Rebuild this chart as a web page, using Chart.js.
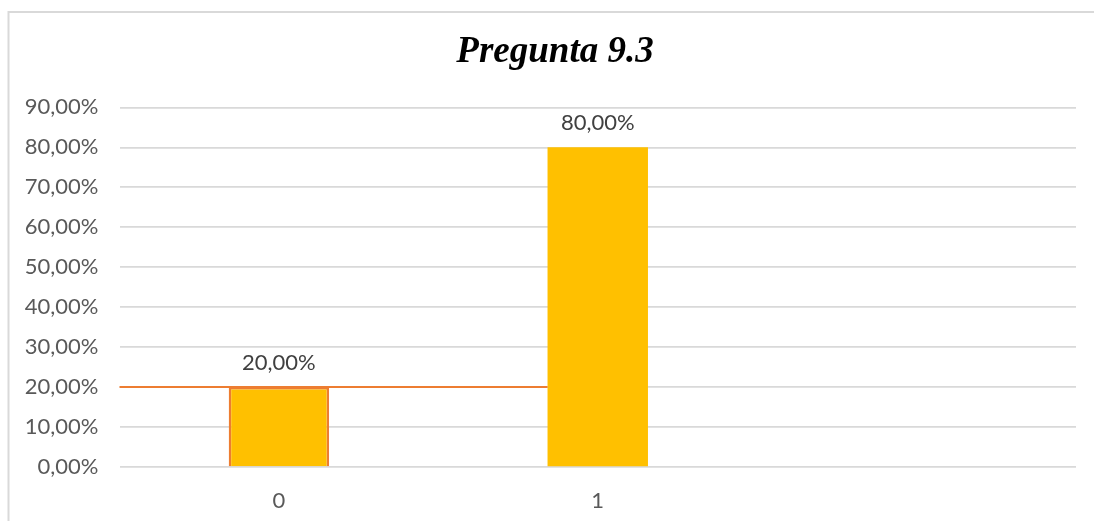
<!DOCTYPE html>
<html lang="es">
<head>
    <meta charset="UTF-8">
    <title>Pregunta 9.3</title>
    <script src="https://cdn.jsdelivr.net/npm/chart.js"></script>
    <style>
        html, body { margin: 0; padding: 0; overflow: hidden; background: #fff; }
        #wrap { position: absolute; left: 0; top: 0; width: 1110px; height: 521px; }
    </style>
</head>
<body>

<div id="wrap"><canvas id="barChart" width="1110" height="521"></canvas></div>

<script>
    // Respuestas de la pregunta 9.3 (proporciones)
    const categories = ['0', '1', ''];
    const percentValues = [0.2, 0.8, null];
    const yTicks = [0, 0.1, 0.2, 0.3, 0.4, 0.5, 0.6, 0.7, 0.8, 0.9];
    const referenceLevel = 0.2;

    const labelFont = { family: 'Lato', size: 22 };
    const gray = '#595959';

    function fmtPercent(v) {
        return (v * 100).toFixed(2).replace('.', ',') + '%';
    }

    // Marco gris del gráfico y fondo blanco
    const framePlugin = {
        id: 'frame',
        beforeDraw(chart) {
            const c = chart.ctx;
            c.save();
            c.fillStyle = '#fff';
            c.fillRect(0, 0, chart.width, chart.height);
            c.strokeStyle = '#d9d9d9';
            c.lineWidth = 2;
            c.beginPath();
            c.moveTo(8.5, chart.height + 5);
            c.lineTo(8.5, 12);
            c.lineTo(chart.width + 5, 12);
            c.stroke();
            c.restore();
        }
    };

    // Línea naranja de referencia y etiquetas de valor sobre las barras
    const overlayPlugin = {
        id: 'overlay',
        afterDatasetsDraw(chart) {
            const c = chart.ctx;
            const meta = chart.getDatasetMeta(0);
            const area = chart.chartArea;
            const y = chart.scales.y.getPixelForValue(referenceLevel);
            const nextBar = meta.data[1];

            c.save();
            c.strokeStyle = '#ED7D31';
            c.lineWidth = 2;
            c.beginPath();
            c.moveTo(area.left, y);
            c.lineTo(nextBar.x - nextBar.width / 2, y);
            c.stroke();

            c.fillStyle = '#404040';
            c.font = labelFont.size + 'px ' + labelFont.family;
            c.textAlign = 'center';
            c.textBaseline = 'middle';
            meta.data.forEach((bar, i) => {
                const v = percentValues[i];
                if (v === null) return;
                c.fillText(fmtPercent(v), bar.x, bar.y - 24);
            });
            c.restore();
        }
    };

    const ctx = document.getElementById('barChart').getContext('2d');
    new Chart(ctx, {
        type: 'bar',
        data: {
            labels: categories,
            datasets: [{
                label: 'Pregunta 9.3',
                data: percentValues,
                backgroundColor: '#FFC000',
                borderColor: '#ED7D31',
                borderWidth: [2.5, 0, 0],
                borderSkipped: 'bottom',
                categoryPercentage: 1,
                barPercentage: 0.315
            }]
        },
        options: {
            responsive: false,
            animation: false,
            layout: { padding: { top: 11, right: 0, left: 0, bottom: 0 } },
            plugins: {
                legend: { display: false },
                tooltip: { enabled: false },
                title: {
                    display: true,
                    text: 'Pregunta 9.3',
                    color: '#000',
                    font: { family: 'Liberation Serif', size: 37, weight: 'bold', style: 'italic', lineHeight: 1.2 },
                    padding: { top: 19, bottom: 33 }
                }
            },
            scales: {
                x: {
                    afterFit(scale) { scale.height = 54; },
                    grid: { display: false, drawTicks: false },
                    border: { display: false },
                    ticks: { color: gray, font: labelFont, padding: 21 }
                },
                y: {
                    min: 0,
                    max: 0.9,
                    afterFit(scale) { scale.width = 119.5; },
                    afterBuildTicks(scale) { scale.ticks = yTicks.map(v => ({ value: v })); },
                    grid: { color: '#d9d9d9', lineWidth: 1.7, drawTicks: false },
                    border: { display: false },
                    ticks: {
                        color: gray,
                        font: labelFont,
                        padding: 21,
                        callback: v => fmtPercent(v)
                    }
                },
                // margen vacío a la derecha del área de trazado
                spacer: {
                    position: 'right',
                    afterFit(scale) { scale.width = 34; },
                    grid: { display: false, drawTicks: false },
                    border: { display: false },
                    ticks: { display: false }
                }
            }
        },
        plugins: [framePlugin, overlayPlugin]
    });
</script>

</body>
</html>
